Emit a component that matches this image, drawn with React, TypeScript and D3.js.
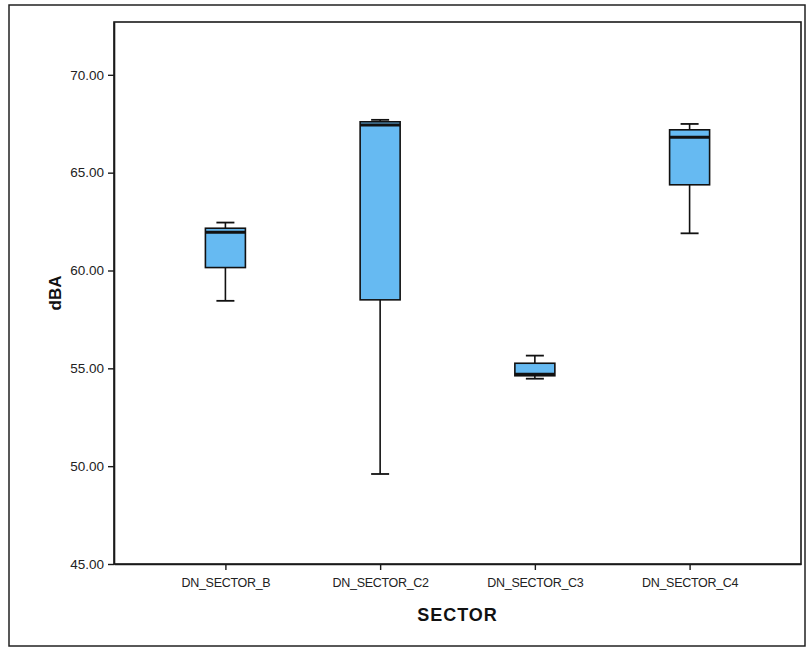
import React, { useEffect, useRef } from 'react';
import * as d3 from 'd3';

// values (dBA)
const categories = ['DN_SECTOR_B', 'DN_SECTOR_C2', 'DN_SECTOR_C3', 'DN_SECTOR_C4'];
const whiskerLow = [58.45, 49.6, 54.47, 61.9];
const q1 = [60.15, 58.5, 54.62, 64.38];
const median = [61.96, 67.44, 54.7, 66.81];
const q3 = [62.16, 67.6, 55.26, 67.19];
const whiskerHigh = [62.45, 67.7, 55.65, 67.49];
const yTicks = [45, 50, 55, 60, 65, 70];

const W = 807;
const H = 647;

function App() {
    const svgRef = useRef<SVGSVGElement>(null);

    useEffect(() => {
        document.body.style.margin = '0';
        const svg = d3.select(svgRef.current);
        svg.selectAll('*').remove();

        const left = 114, right = 801, top = 22, bottom = 564;
        const font = '"Liberation Sans", Arial, sans-serif';

        const x = d3.scalePoint<string>()
            .domain(categories)
            .range([left, right])
            .padding(0.72);

        const y = d3.scaleLinear()
            .domain([45, 72.7])
            .range([bottom, top]);

        // outer frame
        svg.append('rect')
            .attr('x', 9).attr('y', 5)
            .attr('width', 796).attr('height', 641)
            .attr('fill', 'none')
            .attr('stroke', '#222')
            .attr('stroke-width', 1.5);

        // plot frame
        svg.append('rect')
            .attr('x', left).attr('y', top)
            .attr('width', right - left).attr('height', bottom - top)
            .attr('fill', 'white')
            .attr('stroke', '#1a1a1a')
            .attr('stroke-width', 1.6);

        // y axis
        const yAxis = d3.axisLeft(y)
            .tickValues(yTicks)
            .tickFormat(d3.format('.2f'))
            .tickSize(6)
            .tickSizeOuter(0)
            .tickPadding(4);
        const gy = svg.append('g')
            .attr('transform', `translate(${left},0)`)
            .call(yAxis);
        gy.select('.domain').attr('stroke', '#1a1a1a').attr('stroke-width', 1.6);
        gy.selectAll('line').attr('stroke', '#1a1a1a').attr('stroke-width', 1.4);
        gy.selectAll('text')
            .style('font-family', font)
            .style('font-size', '13.5px')
            .attr('fill', '#222');

        // x axis
        const xAxis = d3.axisBottom(x).tickSize(6).tickSizeOuter(0).tickPadding(8);
        const gx = svg.append('g')
            .attr('transform', `translate(0,${bottom})`)
            .call(xAxis);
        gx.select('.domain').attr('stroke', '#1a1a1a').attr('stroke-width', 1.6);
        gx.selectAll('line').attr('stroke', '#1a1a1a').attr('stroke-width', 1.4);
        gx.selectAll('text')
            .style('font-family', font)
            .style('font-size', '12.5px')
            .style('letter-spacing', '-0.3px')
            .attr('fill', '#222');

        // axis titles
        svg.append('text')
            .attr('x', (left + right) / 2)
            .attr('y', 621)
            .attr('text-anchor', 'middle')
            .style('font-family', font)
            .style('font-size', '18px')
            .style('font-weight', 'bold')
            .style('letter-spacing', '1px')
            .attr('fill', '#111')
            .text('SECTOR');

        svg.append('text')
            .attr('transform', `translate(61,${(top + bottom) / 2}) rotate(-90)`)
            .attr('text-anchor', 'middle')
            .style('font-family', font)
            .style('font-size', '17px')
            .style('font-weight', 'bold')
            .attr('fill', '#111')
            .text('dBA');

        // boxes
        const boxW = 40, capW = 18;
        const boxes = svg.append('g')
            .selectAll('g')
            .data(categories)
            .enter()
            .append('g')
            .attr('transform', (d) => `translate(${x(d)},0)`);

        boxes.append('line')
            .attr('x1', 0).attr('x2', 0)
            .attr('y1', (d, i) => y(whiskerHigh[i]))
            .attr('y2', (d, i) => y(whiskerLow[i]))
            .attr('stroke', '#111').attr('stroke-width', 1.6);

        boxes.append('line')
            .attr('x1', -capW / 2).attr('x2', capW / 2)
            .attr('y1', (d, i) => y(whiskerHigh[i]))
            .attr('y2', (d, i) => y(whiskerHigh[i]))
            .attr('stroke', '#111').attr('stroke-width', 1.8);

        boxes.append('line')
            .attr('x1', -capW / 2).attr('x2', capW / 2)
            .attr('y1', (d, i) => y(whiskerLow[i]))
            .attr('y2', (d, i) => y(whiskerLow[i]))
            .attr('stroke', '#111').attr('stroke-width', 1.8);

        boxes.append('rect')
            .attr('x', -boxW / 2)
            .attr('width', boxW)
            .attr('y', (d, i) => y(q3[i]))
            .attr('height', (d, i) => y(q1[i]) - y(q3[i]))
            .attr('fill', '#66baf2')
            .attr('stroke', '#111')
            .attr('stroke-width', 1.6);

        boxes.append('line')
            .attr('x1', -boxW / 2).attr('x2', boxW / 2)
            .attr('y1', (d, i) => y(median[i]))
            .attr('y2', (d, i) => y(median[i]))
            .attr('stroke', '#111').attr('stroke-width', 3);
    }, []);

    return (
        <svg ref={svgRef} width={W} height={H} style={{ display: 'block', background: 'white' }} />
    );
}

export default App;
